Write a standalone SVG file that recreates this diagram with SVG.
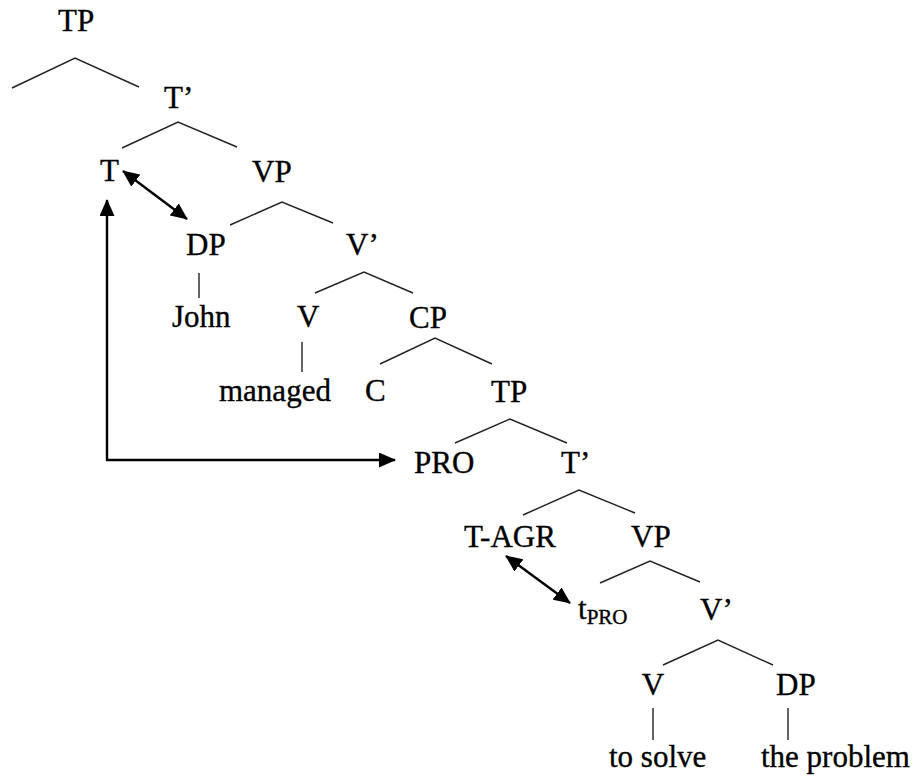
<svg xmlns="http://www.w3.org/2000/svg" width="918" height="776" viewBox="0 0 918 776">
<style>
  text { font-family: "Liberation Serif", "Times New Roman", serif; font-size: 31px; fill: #000; stroke: #000; stroke-width: 0.35; }
  .sub { font-size: 21px; }
  .br { fill: none; stroke: #222; stroke-width: 1.4; }
  .arr { fill: none; stroke: #000; stroke-width: 2.4; marker-start: url(#ah); marker-end: url(#ah); }
</style>
<defs>
  <marker id="ah" viewBox="0 0 17 15" refX="16" refY="7.5" markerWidth="17" markerHeight="15" markerUnits="userSpaceOnUse" orient="auto-start-reverse">
    <path d="M0,0 L17,7.5 L0,15 Z" fill="#000"/>
  </marker>
</defs>
<rect width="918" height="776" fill="#fff"/>

<g id="connectors">
  <polyline class="br" points="12,88 75,58 139,87"/>
  <polyline class="br" points="122,148 178,122 237,147"/>
  <polyline class="br" points="230,225 282,202 333,223"/>
  <polyline class="br" points="315,293 364,272 413,293"/>
  <polyline class="br" points="380,364 435,338 492,364"/>
  <polyline class="br" points="455,443 510,419 567,443"/>
  <polyline class="br" points="523,515 579,490 635,513"/>
  <polyline class="br" points="600,583 650,561 700,582"/>
  <polyline class="br" points="663,665 718,640 773,665"/>
  <line class="br" x1="199" y1="273" x2="199" y2="298"/>
  <line class="br" x1="302" y1="342" x2="302" y2="372"/>
  <line class="br" x1="653" y1="708" x2="653" y2="740"/>
  <line class="br" x1="788" y1="708" x2="788" y2="740"/>
  <path class="arr" d="M123,171 L187,219"/>
  <path class="arr" d="M506,556 L570,603"/>
  <path class="arr" d="M107,200 V460 H395"/>
</g>

<g id="n-TP1"><text x="58" y="31">TP</text></g>
<g id="n-Tbar1"><text x="164" y="108">T’</text></g>
<g id="n-T"><text x="100" y="181">T</text></g>
<g id="n-VP1"><text x="252" y="182">VP</text></g>
<g id="n-DP1"><text x="186" y="255">DP</text></g>
<g id="n-Vbar1"><text x="346" y="255">V’</text></g>
<g id="n-John"><text x="172" y="327">John</text></g>
<g id="n-V1"><text x="297" y="327">V</text></g>
<g id="n-CP"><text x="409" y="328">CP</text></g>
<g id="n-managed"><text x="219" y="401">managed</text></g>
<g id="n-C"><text x="365" y="401">C</text></g>
<g id="n-TP2"><text x="491" y="402">TP</text></g>
<g id="n-PRO"><text x="414" y="473">PRO</text></g>
<g id="n-Tbar2"><text x="561" y="473">T’</text></g>
<g id="n-TAGR"><text x="464" y="547">T-AGR</text></g>
<g id="n-VP2"><text x="631" y="547">VP</text></g>
<g id="n-tPRO"><text x="578" y="619">t<tspan class="sub" dy="5">PRO</tspan></text></g>
<g id="n-Vbar2"><text x="700" y="620">V’</text></g>
<g id="n-V2"><text x="653" y="695" text-anchor="middle">V</text></g>
<g id="n-DP2"><text x="776" y="695">DP</text></g>
<g id="n-tosolve"><text x="609" y="767">to solve</text></g>
<g id="n-problem"><text x="761" y="767">the problem</text></g>
</svg>
